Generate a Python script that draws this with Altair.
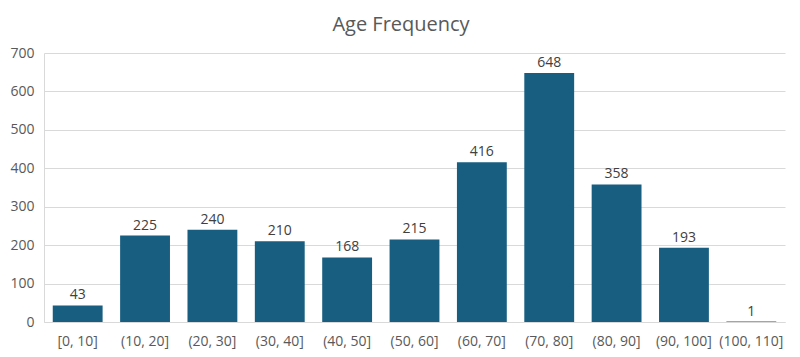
import altair as alt
import pandas as pd

bins = ["[0, 10]", "(10, 20]", "(20, 30]", "(30, 40]", "(40, 50]", "(50, 60]",
        "(60, 70]", "(70, 80]", "(80, 90]", "(90, 100]", "(100, 110]"]
counts = [43, 225, 240, 210, 168, 215, 416, 648, 358, 193, 1]
y_ticks = [0, 100, 200, 300, 400, 500, 600, 700]
title_text = "Age Frequency"

df = pd.DataFrame({"bin": bins, "count": counts})

FONT = "Open Sans"
GREY = "#595959"

x = alt.X("bin:N", sort=bins, title=None,
          scale=alt.Scale(paddingInner=0.26, paddingOuter=0.13),
          axis=alt.Axis(labelAngle=0, labelFont=FONT, labelFontSize=14, labelColor=GREY,
                        ticks=False, domainColor="#d9d9d9", labelPadding=12))
y = alt.Y("count:Q", title=None,
          scale=alt.Scale(domain=[0, 700]),
          axis=alt.Axis(values=y_ticks, labelFont=FONT, labelFontSize=14, labelOverlap=False,
                        labelColor=GREY, ticks=False, domain=True, domainColor="#d9d9d9",
                        gridColor="#d9d9d9", labelPadding=10))

base = alt.Chart(df)
bars = base.mark_bar(color="#175E81").encode(x=x, y=y)
labels = base.mark_text(dy=-10, font=FONT, fontSize=14, color="#404040").encode(
    x=x, y=y, text="count:Q")

deco = pd.DataFrame({"t": [title_text]})
title = alt.Chart(deco).mark_text(font=FONT, fontSize=20, color=GREY).encode(
    text="t:N", x=alt.value(357), y=alt.value(-28))

chart = alt.layer(bars, labels, title).properties(
    width=741, height=269,
    autosize=alt.AutoSizeParams(type="none"),
    padding={"left": 36, "top": 45, "right": 7, "bottom": 27},
).configure_view(stroke=None)

chart.save("out.html", embed_options={"renderer": "svg", "actions": False})
